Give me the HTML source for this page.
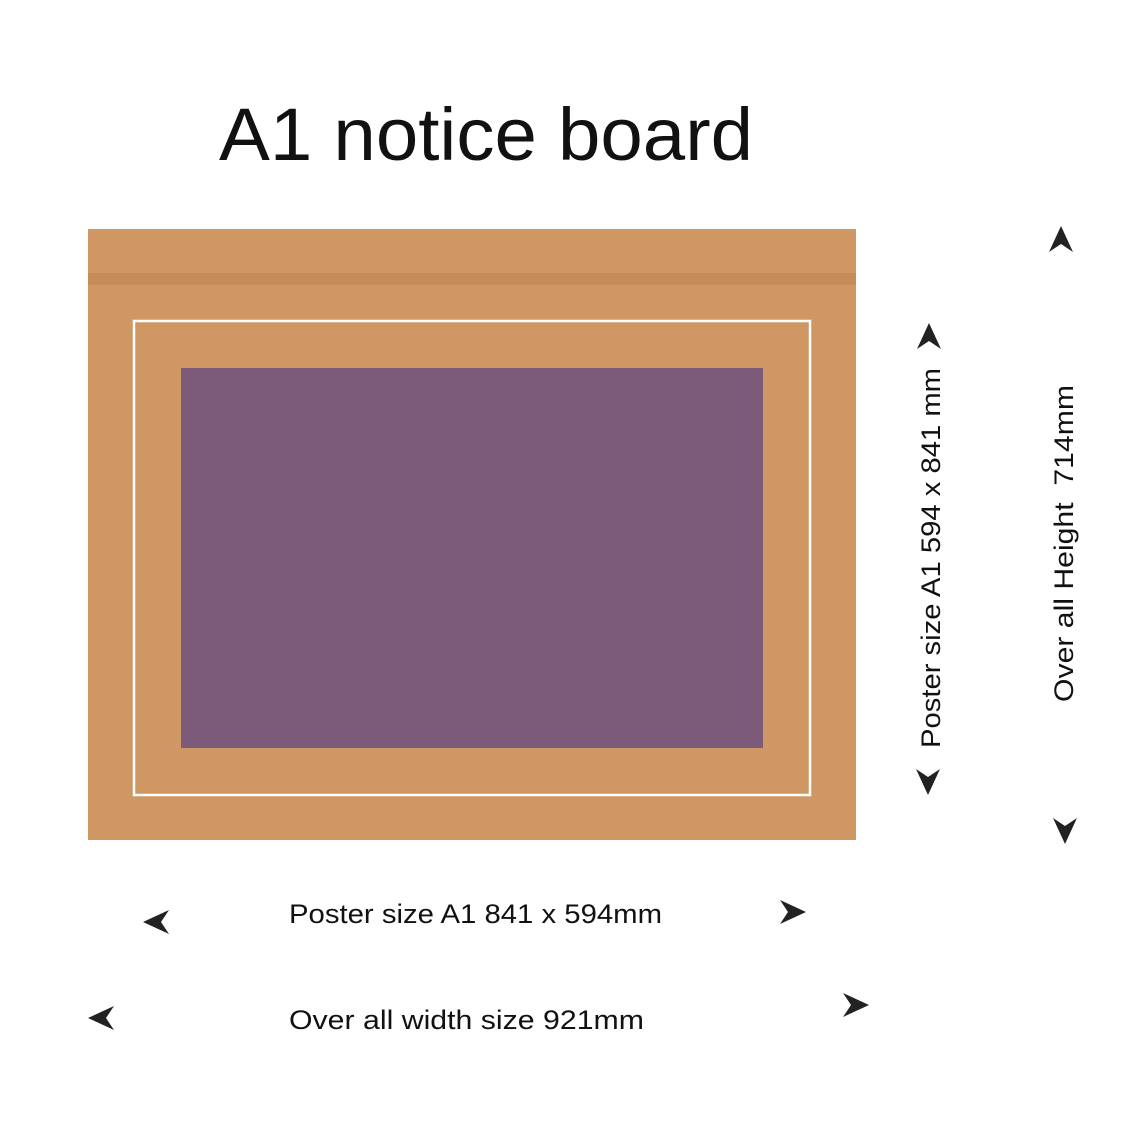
<!DOCTYPE html>
<html><head><meta charset="utf-8"><style>
html,body{margin:0;padding:0;background:#fff;}
svg{display:block;}
text{font-family:"Liberation Sans",sans-serif;fill:#111;}
</style></head><body>
<svg width="1134" height="1134" viewBox="0 0 1134 1134" xmlns="http://www.w3.org/2000/svg">
<rect width="1134" height="1134" fill="#fff"/>
<text x="486" y="160" font-size="74" text-anchor="middle" textLength="534" lengthAdjust="spacingAndGlyphs">A1 notice board</text>
<rect x="88" y="229" width="768" height="611" fill="#cf9763"/>
<rect x="88" y="273" width="768" height="12" fill="#c68d5a"/>
<rect x="134" y="321" width="676" height="474" fill="none" stroke="#fff" stroke-width="2.5"/>
<rect x="181" y="368" width="582" height="380" fill="#7c5a7a"/>
<defs><path id="ar" d="M0,-13 L12,13 L0,5 L-12,13 Z" fill="#222"/></defs>
<!-- up arrows: tip at y-13 -->
<use href="#ar" transform="translate(1061,239)"/>
<use href="#ar" transform="translate(929,336)"/>
<use href="#ar" transform="translate(928,782) rotate(180)"/>
<use href="#ar" transform="translate(1065,831) rotate(180)"/>
<use href="#ar" transform="translate(156,922) rotate(-90)"/>
<use href="#ar" transform="translate(101,1018) rotate(-90)"/>
<use href="#ar" transform="translate(793,912) rotate(90)"/>
<use href="#ar" transform="translate(856,1005) rotate(90)"/>
<text x="289" y="923" font-size="27" textLength="373" lengthAdjust="spacingAndGlyphs">Poster size A1 841 x 594mm</text>
<text x="289" y="1029" font-size="27" textLength="355" lengthAdjust="spacingAndGlyphs">Over all width size 921mm</text>
<text transform="translate(940,748) rotate(-90)" font-size="27" textLength="380" lengthAdjust="spacingAndGlyphs">Poster size A1 594 x 841 mm</text>
<text transform="translate(1073,702) rotate(-90)" font-size="27" textLength="317" lengthAdjust="spacingAndGlyphs" xml:space="preserve">Over all Height  714mm</text>
</svg>
</body></html>
